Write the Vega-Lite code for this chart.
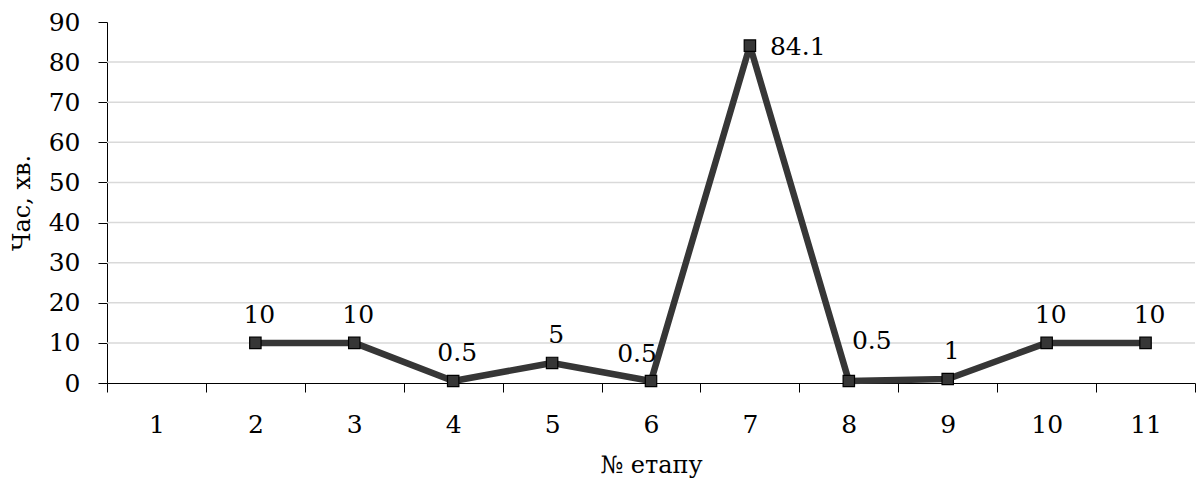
{
  "$schema": "https://vega.github.io/schema/vega-lite/v6.json",
  "width": 1088,
  "height": 361,
  "autosize": "none",
  "padding": {"left": 107, "top": 22, "right": 8, "bottom": 108},
  "background": "white",
  "config": {
    "view": {"stroke": null},
    "font": "DejaVu Serif"
  },
  "data": {
    "values": [
      {"stage": "1", "time": null},
      {"stage": "2", "time": 10},
      {"stage": "3", "time": 10},
      {"stage": "4", "time": 0.5},
      {"stage": "5", "time": 5},
      {"stage": "6", "time": 0.5},
      {"stage": "7", "time": 84.1},
      {"stage": "8", "time": 0.5},
      {"stage": "9", "time": 1},
      {"stage": "10", "time": 10},
      {"stage": "11", "time": 10}
    ]
  },
  "encoding": {
    "x": {
      "field": "stage",
      "type": "ordinal",
      "sort": ["1","2","3","4","5","6","7","8","9","10","11"],
      "scale": {"domain": ["1","2","3","4","5","6","7","8","9","10","11"], "paddingInner": 0, "paddingOuter": 0},
      "axis": {
        "title": "№ етапу",
        "titleFont": "DejaVu Serif",
        "titleFontSize": 24,
        "titleFontWeight": "normal",
        "titleColor": "black",
        "titleBaseline": "top",
        "titleY": 70,
        "labelFont": "DejaVu Serif",
        "labelFontSize": 25,
        "labelColor": "black",
        "labelAngle": 0,
        "labelPadding": 20,
        "tickBand": "extent",
        "tickSize": 9,
        "tickColor": "black",
        "domainColor": "black",
        "grid": false
      }
    },
    "y": {
      "field": "time",
      "type": "quantitative",
      "scale": {"domain": [0, 90], "nice": false},
      "axis": {
        "title": "Час, хв.",
        "titleFont": "DejaVu Serif",
        "titleFontSize": 24,
        "titleFontWeight": "normal",
        "titleColor": "black",
        "titleBaseline": "top",
        "titleX": -97,
        "values": [0,10,20,30,40,50,60,70,80,90],
        "labelFont": "DejaVu Serif",
        "labelFontSize": 25,
        "labelColor": "black",
        "labelPadding": 18,
        "tickSize": 9,
        "tickColor": "black",
        "domainColor": "black",
        "grid": false
      }
    }
  },
  "layer": [
    {
      "mark": {"type": "rule", "color": "#d9d9d9", "strokeWidth": 1.5},
      "data": {"values": [{"g": 10},{"g": 20},{"g": 30},{"g": 40},{"g": 50},{"g": 60},{"g": 70},{"g": 80}]},
      "encoding": {
        "y": {"field": "g", "type": "quantitative"},
        "x": null
      }
    },
    {
      "transform": [{"filter": "datum.time != null"}],
      "mark": {"type": "line", "color": "#363636", "strokeWidth": 6.5, "strokeJoin": "round"},
      "encoding": {}
    },
    {
      "transform": [{"filter": "datum.time != null"}],
      "mark": {"type": "point", "shape": "square", "size": 130, "filled": true, "fill": "#363636", "stroke": "black", "strokeWidth": 1.2, "opacity": 1},
      "encoding": {}
    },
    {
      "transform": [{"filter": "datum.time != null && indexof(['2','3','4','5','9','10','11'], datum.stage) >= 0"}],
      "mark": {"type": "text", "fontSize": 25, "font": "DejaVu Serif", "color": "black", "dy": -28, "dx": 4},
      "encoding": {"text": {"field": "time", "type": "quantitative"}}
    },
    {
      "transform": [{"filter": "datum.stage == '6'"}],
      "mark": {"type": "text", "fontSize": 25, "font": "DejaVu Serif", "color": "black", "dy": -27, "dx": -14},
      "encoding": {"text": {"field": "time", "type": "quantitative"}}
    },
    {
      "transform": [{"filter": "datum.stage == '7'"}],
      "mark": {"type": "text", "fontSize": 25, "font": "DejaVu Serif", "color": "black", "align": "left", "dx": 20, "dy": 1},
      "encoding": {"text": {"field": "time", "type": "quantitative"}}
    },
    {
      "transform": [{"filter": "datum.stage == '8'"}],
      "mark": {"type": "text", "fontSize": 25, "font": "DejaVu Serif", "color": "black", "dx": 23, "dy": -40},
      "encoding": {"text": {"field": "time", "type": "quantitative"}}
    }
  ]
}
